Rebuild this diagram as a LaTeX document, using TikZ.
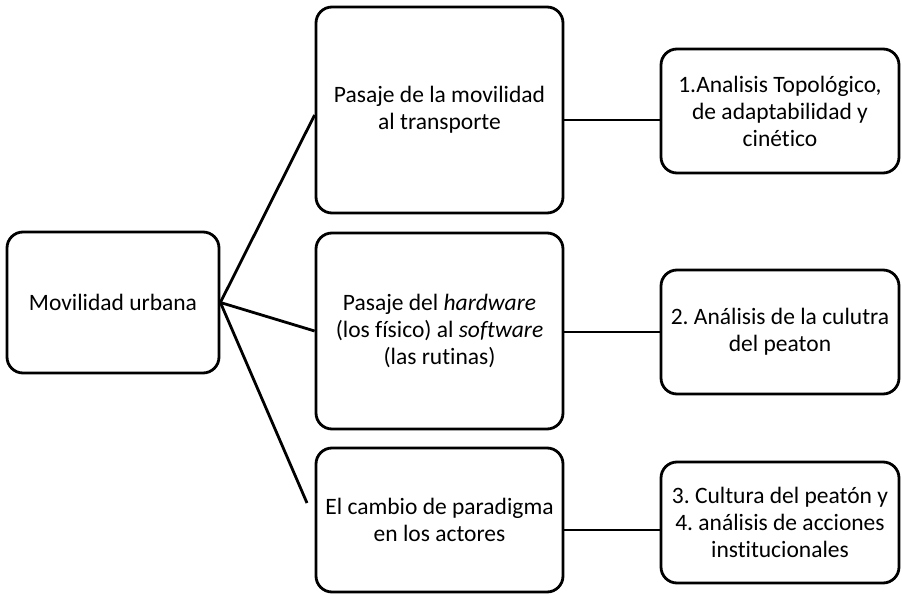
\documentclass[tikz,border=0pt]{standalone}
\usepackage{fontspec}
\setmainfont[Ligatures=NoCommon]{Carlito}
\begin{document}
\frenchspacing
\begin{tikzpicture}[x=1pt,y=-1pt,
  box/.style={draw, line width=2.8pt, rounded corners=16pt, align=center, inner sep=0pt,
    font=\fontsize{23.5}{27}\selectfont},
  link/.style={line width=2.8pt}]
\useasboundingbox (0,0) rectangle (902,596);
\node[box, minimum width=212pt, minimum height=141pt] (L) at (113,302.5) {Movilidad urbana};
\node[box, minimum width=247pt, minimum height=206pt] (m1) at (439.5,110) {Pasaje de la movilidad\\al transporte};
\node[box, minimum width=247pt, minimum height=196pt] (m2) at (439.5,331) {Pasaje del \textit{hardware}\\(los físico) al \textit{software}\\(las rutinas)};
\node[box, minimum width=247pt, minimum height=144pt] (m3) at (439.5,520) {El cambio de paradigma\\en los actores};
\node[box, minimum width=238pt, minimum height=124pt] (r1) at (780,111) {1.Analisis Topológico,\\de adaptabilidad y\\cinético};
\node[box, minimum width=238pt, minimum height=124pt] (r2) at (780,332) {2. Análisis de la culutra\\del peaton};
\node[box, minimum width=238pt, minimum height=121pt] (r3) at (780,522.5) {3. Cultura del peatón y\\4. análisis de acciones\\institucionales};
\coordinate (e3) at (307,503);
\draw[link] (L.east) -- (m1.west |- 0,115);
\draw[link] (L.east) -- (m2.west);
\draw[link] (L.east) -- (e3);
\draw[link] (m1.east |- 0,120) -- (r1.west |- 0,120);
\draw[link] (m2.east |- 0,332) -- (r2.west |- 0,332);
\draw[link] (m3.east |- 0,530) -- (r3.west |- 0,530);
\end{tikzpicture}
\end{document}
